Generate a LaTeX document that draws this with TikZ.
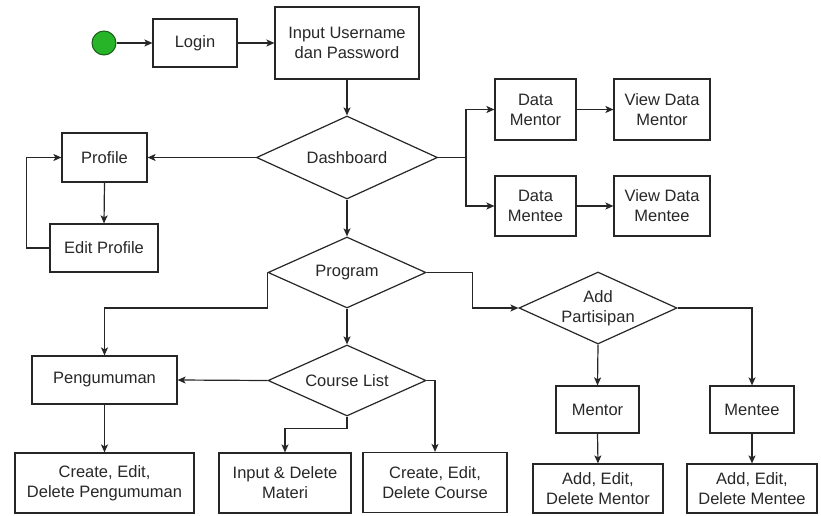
\documentclass[tikz,border=0pt]{standalone}
\usepackage{fontspec}
\setmainfont{Liberation Sans}
\usetikzlibrary{arrows.meta,shapes.geometric}
\definecolor{startfill}{RGB}{40,180,40}
\definecolor{startline}{RGB}{25,95,25}
\definecolor{txt}{RGB}{40,40,40}
\begin{document}
\begin{tikzpicture}[x=1pt,y=-1pt,
  every node/.style={font=\fontsize{16.5}{20}\selectfont, text=txt},
  box/.style={draw=black!85, line width=1.2pt, rectangle, inner sep=0pt, align=center},
  dia/.style={draw=black!85, line width=1.2pt, diamond, inner sep=0pt},
  dtext/.style={align=center, inner sep=0pt},
  conn/.style={draw=black!85, line width=1.2pt},
  arr/.style={conn, -{Stealth[length=8pt,width=7pt,inset=2pt]}}
]
\useasboundingbox (0,0) rectangle (821,516);
\fill[white] (0,0) rectangle (821,516);

\node[circle, fill=startfill, draw=startline, line width=1pt, minimum size=24pt, inner sep=0pt] (start) at (104,43) {};
\node[box, minimum width=84pt, minimum height=48pt] (login) at (195,43) {Login};
\node[box, minimum width=144pt, minimum height=72pt] (input) at (347,43) {Input Username\\dan Password};
\node[dia, minimum width=181pt, minimum height=83pt] (dash) at (347,157.5) {};
\node[dtext] (dasht) at (dash.center) {Dashboard};
\node[box, minimum width=85pt, minimum height=49pt] (profile) at (104.5,157.5) {Profile};
\node[box, minimum width=108pt, minimum height=48pt] (editp) at (104,248) {Edit Profile};
\node[box, minimum width=81pt, minimum height=61pt] (dmentor) at (535.5,109.5) {Data\\Mentor};
\node[box, minimum width=96pt, minimum height=61pt] (vmentor) at (662,109.5) {View Data\\Mentor};
\node[box, minimum width=81pt, minimum height=60pt] (dmentee) at (535.5,206) {Data\\Mentee};
\node[box, minimum width=96pt, minimum height=60pt] (vmentee) at (662,206) {View Data\\Mentee};
\node[dia, minimum width=158pt, minimum height=71pt] (prog) at (347,272.5) {};
\node[dtext] (progt) at (prog.center) {Program};
\node[dia, minimum width=158pt, minimum height=71pt] (course) at (347,380.5) {};
\node[dtext] (courset) at (course.center) {Course List};
\node[dia, minimum width=158pt, minimum height=72pt] (addp) at (598,308) {};
\node[dtext] (addpt) at (addp.center) {Add\\Partisipan};
\node[box, minimum width=145pt, minimum height=48pt] (peng) at (104.5,380) {Pengumuman};
\node[box, minimum width=179pt, minimum height=60pt] (cpeng) at (104.5,483) {Create, Edit,\\Delete Pengumuman};
\node[box, minimum width=132pt, minimum height=60pt] (materi) at (285,483) {Input \& Delete\\Materi};
\node[box, minimum width=144pt, minimum height=60pt] (ccourse) at (435,482.5) {Create, Edit,\\Delete Course};
\node[box, minimum width=83pt, minimum height=47pt] (mentor) at (597.5,409.5) {Mentor};
\node[box, minimum width=84pt, minimum height=47pt] (mentee) at (752,409.5) {Mentee};
\node[box, minimum width=130pt, minimum height=49pt] (amentor) at (598,488.5) {Add, Edit,\\Delete Mentor};
\node[box, minimum width=130pt, minimum height=49pt] (amentee) at (752,488.5) {Add, Edit,\\Delete Mentee};

\coordinate (dj) at (466,157.5);

\draw[arr] (start) -- (login);
\draw[arr] (login) -- (input);
\draw[arr] (input.south) -- (dash.north);
\draw[arr] (dash.west) -- (profile.east);
\draw[arr] (profile.south) -- (editp.north);
\draw[arr] (editp.west) -- ([xshift=-23pt]editp.west) |- (profile.west);
\draw[conn] (dash.east) -- (dj);
\draw[arr] (dj) |- (dmentor.west);
\draw[arr] (dj) |- (dmentee.west);
\draw[arr] (dmentor) -- (vmentor);
\draw[arr] (dmentee) -- (vmentee);
\draw[arr] (dash.south) -- (prog.north);
\draw[arr] (prog.west) -- ++(0,35.5) -| (peng.north);
\draw[arr] (prog.south) -- (course.north);
\draw[arr] (prog.east) -- ++(46,0) |- (addp.west);
\draw[arr] (course.west) -- (peng.east);
\draw[arr] (course.east) -- ++(9,0) -| (ccourse.north);
\draw[arr] (course.south) -- ++(0,12) -| (materi.north);
\draw[arr] (peng.south) -- (cpeng.north);
\draw[arr] (addp.south) -- (mentor.north);
\draw[arr] (addp.east) -| (mentee.north);
\draw[arr] (mentor.south) -- (amentor.north);
\draw[arr] (mentee.south) -- (amentee.north);
\end{tikzpicture}
\end{document}
